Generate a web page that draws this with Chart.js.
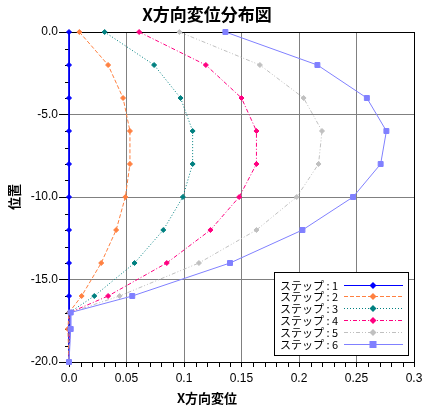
<!DOCTYPE html>
<html>
<head>
<meta charset="utf-8">
<script src="https://cdn.jsdelivr.net/npm/chart.js@4.4.0/dist/chart.umd.min.js"></script>
<style>
  html, body { margin: 0; padding: 0; background: #fff; }
</style>
</head>
<body>
<canvas id="chart" width="433" height="411"></canvas>
<script>
// depth positions (y) shared by every step
const positions = [0, -2, -4, -6, -8, -10, -12, -14, -16, -17, -18, -20];

// X displacement per step
const step1 = [0, 0, 0, 0, 0, 0, 0, 0, 0, 0, 0, 0];
const step2 = [0.009, 0.034, 0.047, 0.053, 0.053, 0.049, 0.041, 0.028, 0.011, 0.0, -0.001, 0];
const step3 = [0.031, 0.074, 0.097, 0.1075, 0.1075, 0.099, 0.082, 0.057, 0.022, 0.0005, 0.0005, 0];
const step4 = [0.061, 0.119, 0.150, 0.163, 0.163, 0.148, 0.123, 0.085, 0.034, 0.0008, 0.0008, 0];
const step5 = [0.096, 0.166, 0.204, 0.220, 0.217, 0.198, 0.163, 0.113, 0.044, 0.001, 0.001, 0];
const step6 = [0.136, 0.216, 0.259, 0.276, 0.271, 0.247, 0.203, 0.140, 0.055, 0.0015, 0.0015, 0];

const stepLabels = ['ステップ : 1', 'ステップ : 2', 'ステップ : 3', 'ステップ : 4', 'ステップ : 5', 'ステップ : 6'];
const stepSeries = [step1, step2, step3, step4, step5, step6];
const stepColors = ['#0000FF', '#FF8040', '#008080', '#FF0080', '#C0C0C0', '#8080FF'];
const stepDashes = [[], [4, 2], [1, 2], [4, 2, 1, 2], [4, 2, 1, 2, 1, 2], []];
const stepMarkers = ['rectRot', 'rectRot', 'rectRot', 'rectRot', 'rectRot', 'rect'];

const tickFont = { family: "'Liberation Sans', Arial, sans-serif", size: 12 };
const jpFont = "'Noto Sans CJK JP', sans-serif";

const datasets = stepSeries.map((vals, i) => ({
    label: stepLabels[i],
    data: vals.map((v, k) => ({ x: v, y: positions[k] })),
    showLine: true,
    borderColor: stepColors[i],
    backgroundColor: stepColors[i],
    pointBackgroundColor: stepColors[i],
    pointBorderColor: stepColors[i],
    borderWidth: 1,
    borderDash: stepDashes[i],
    pointStyle: stepMarkers[i],
    pointRadius: stepMarkers[i] === 'rect' ? 3.5 : 2.5,
    pointBorderWidth: 1,
    clip: false,
    order: stepSeries.length - i
}));

// minor ticks + black frame round the plot
const frameAndTicks = {
    id: 'frameAndTicks',
    beforeDatasetsDraw(chart) {
        const { ctx, chartArea: a, scales: { x, y } } = chart;
        ctx.save();
        ctx.strokeStyle = '#000';
        ctx.lineWidth = 1;
        ctx.beginPath();
        for (let v = -19; v < 0; v++) {
            if (v % 5 === 0) continue;
            const py = Math.round(y.getPixelForValue(v)) + 0.5;
            ctx.moveTo(a.left - 4, py);
            ctx.lineTo(a.left, py);
        }
        for (let i = 1; i < 30; i++) {
            if (i % 5 === 0) continue;
            const px = Math.round(x.getPixelForValue(i / 100)) + 0.5;
            ctx.moveTo(px, a.bottom);
            ctx.lineTo(px, a.bottom + 5);
        }
        ctx.stroke();
        ctx.strokeRect(Math.round(a.left) + 0.5, Math.round(a.top) + 0.5,
            Math.round(a.right) - Math.round(a.left), Math.round(a.bottom) - Math.round(a.top));
        ctx.restore();
    }
};

// legend box inside the plot, bottom right
const boxLegend = {
    id: 'boxLegend',
    afterDraw(chart) {
        const { ctx, chartArea: a } = chart;
        const right = a.right - 6, bottom = a.bottom - 7;
        const w = 134, h = 83;
        const left = right - w, top = bottom - h;
        ctx.save();
        ctx.fillStyle = '#fff';
        ctx.fillRect(left, top, w, h);
        ctx.strokeStyle = '#000';
        ctx.lineWidth = 1;
        ctx.strokeRect(Math.round(left) + 0.5, Math.round(top) + 0.5, w, h);
        chart.data.datasets.forEach((ds, i) => {
            const cy = Math.round(top + 12.5 + i * 11.9) + 0.5;
            ctx.fillStyle = '#000';
            ctx.font = '11px ' + jpFont;
            ctx.textBaseline = 'middle';
            ctx.textAlign = 'left';
            ctx.fillText(ds.label, left + 6, cy);
            ctx.strokeStyle = ds.borderColor;
            ctx.setLineDash(ds.borderDash);
            ctx.beginPath();
            ctx.moveTo(left + 70, cy);
            ctx.lineTo(right - 5, cy);
            ctx.stroke();
            ctx.setLineDash([]);
            const mx = left + 99;
            ctx.fillStyle = ds.borderColor;
            ctx.beginPath();
            if (ds.pointStyle === 'rect') {
                ctx.rect(mx - 3.5, cy - 3.5, 7, 7);
            } else {
                ctx.moveTo(mx - 3.5, cy);
                ctx.lineTo(mx, cy - 3.5);
                ctx.lineTo(mx + 3.5, cy);
                ctx.lineTo(mx, cy + 3.5);
                ctx.closePath();
            }
            ctx.fill();
        });
        ctx.restore();
    }
};

new Chart(document.getElementById('chart'), {
    type: 'scatter',
    data: { datasets },
    options: {
        responsive: false,
        devicePixelRatio: 1,
        animation: false,
        events: [],
        layout: { padding: { left: 0, right: 19, top: 0, bottom: 0 } },
        plugins: {
            legend: { display: false },
            tooltip: { enabled: false },
            title: {
                display: true,
                text: 'X方向変位分布図',
                color: '#000',
                font: { family: jpFont, size: 17, weight: 'bold' },
                padding: { top: 4, bottom: 7.6 }
            },
            subtitle: {
                display: true,
                position: 'bottom',
                text: 'X方向変位',
                color: '#000',
                font: { family: jpFont, size: 13, weight: 'bold' },
                padding: { top: 5, bottom: 5 }
            }
        },
        scales: {
            x: {
                type: 'linear',
                min: 0,
                max: 0.3,
                afterFit: s => { s.height = 23.4; },
                ticks: {
                    stepSize: 0.05,
                    color: '#000',
                    font: tickFont,
                    padding: 4,
                    maxRotation: 0,
                    callback: v => v === 0 ? '0.0' : String(Number(v.toFixed(2)))
                },
                grid: { color: '#808080', tickColor: '#000', tickLength: 5 },
                border: { color: '#000' }
            },
            y: {
                type: 'linear',
                min: -20,
                max: 0,
                afterFit: s => { s.width = 69; },
                ticks: {
                    stepSize: 5,
                    color: '#000',
                    font: tickFont,
                    padding: 1,
                    callback: v => v.toFixed(1)
                },
                grid: { color: '#808080', tickColor: '#000', tickLength: 10 },
                border: { color: '#000' },
                title: {
                    display: true,
                    text: '位置',
                    color: '#000',
                    font: { family: jpFont, size: 13, weight: 'bold' },
                    padding: { top: 6, bottom: 0 }
                }
            }
        }
    },
    plugins: [frameAndTicks, boxLegend]
});
</script>
</body>
</html>
